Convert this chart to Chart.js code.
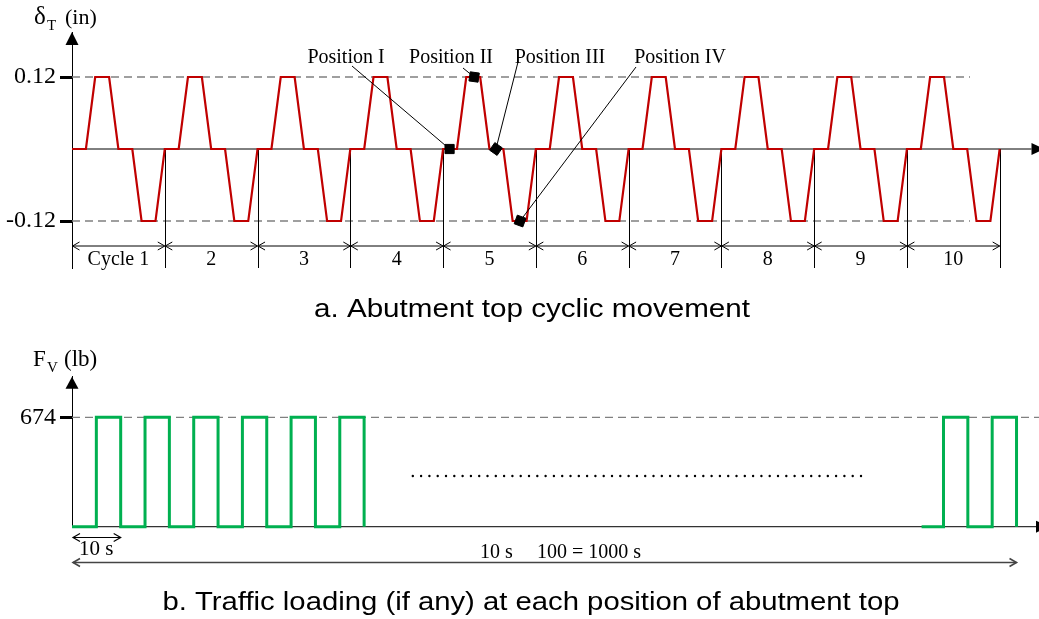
<!DOCTYPE html>
<html>
<head>
<meta charset="utf-8">
<script src="https://cdn.jsdelivr.net/npm/chart.js@4.4.1/dist/chart.umd.min.js"></script>
<style>
  body { margin: 0; background: #fff; width: 1039px; height: 619px; overflow: hidden; position: relative; }
  canvas { position: absolute; left: 0; }
  #moveChart { top: 0; }
  #loadChart { top: 330px; }
</style>
</head>
<body>
<canvas id="moveChart" width="1039" height="330"></canvas>
<canvas id="loadChart" width="1039" height="289"></canvas>
<script>
// abutment movement: one cycle, x in fractions of a cycle, y in inches
const cycleFractions = [0, 0.15, 0.25, 0.4, 0.5, 0.65, 0.75, 0.9, 1];
const cycleDelta = [0, 0, 0.12, 0.12, 0, 0, -0.12, -0.12, 0];
const cycleCount = 10;
const cycleLabels = ["Cycle 1", "2", "3", "4", "5", "6", "7", "8", "9", "10"];
const deltaTicks = [0.12, -0.12];

// the four marked positions inside cycle 5
const positionNames = ["Position I", "Position II", "Position III", "Position IV"];
const positionCycle = [4.07, 4.335, 4.57, 4.83];
const positionDelta = [0, 0.12, 0, -0.12];

// traffic load pulses (time in s, force in lb)
const loadTimes = [0, 5, 10, 15, 20, 25, 30, 35, 40, 45, 50, 55, 60];
const loadForce = [0, 674, 0, 674, 0, 674, 0, 674, 0, 674, 0, 674, 0];
const lateTimes = [174.5, 179, 184, 189, 194];
const lateForce = [0, 674, 0, 674, 0];
const forceTicks = [674];
const gapTimes = [70, 163];
const gapForce = [312, 312];

const SERIF = "'Liberation Serif', 'Times New Roman', serif";
const SANS = "'Liberation Sans', Arial, sans-serif";

function arrowHead(ctx, x, y, dir, len, half) {
  // filled triangle, tip at (x, y)
  ctx.beginPath();
  if (dir === "up") {
    ctx.moveTo(x, y); ctx.lineTo(x - half, y + len); ctx.lineTo(x + half, y + len);
  } else {
    ctx.moveTo(x, y); ctx.lineTo(x - len, y - half); ctx.lineTo(x - len, y + half);
  }
  ctx.closePath();
  ctx.fill();
}

function chevron(ctx, x, y, dir) {
  // open arrow tip of a dimension line, dir = 1 points right, -1 left
  ctx.beginPath();
  ctx.moveTo(x - dir * 7, y - 4);
  ctx.lineTo(x, y);
  ctx.lineTo(x - dir * 7, y + 4);
  ctx.stroke();
}

function dimLine(ctx, x1, x2, y) {
  ctx.beginPath();
  ctx.moveTo(x1, y);
  ctx.lineTo(x2, y);
  ctx.stroke();
  chevron(ctx, x1, y, -1);
  chevron(ctx, x2, y, 1);
}

// caption text, stretched sideways to the wanted width
function caption(ctx, text, cx, baseline, width) {
  ctx.save();
  ctx.font = "26px " + SANS;
  ctx.textAlign = "center";
  const k = width / ctx.measureText(text).width;
  ctx.translate(cx, baseline);
  ctx.scale(k, 1);
  ctx.fillText(text, 0, 0);
  ctx.restore();
}

/* ---------- a. abutment top movement ---------- */
const movePoints = [];
for (let c = 0; c < cycleCount; c++) {
  cycleFractions.forEach((f, i) => {
    if (c > 0 && i === 0) return;
    movePoints.push({ x: c + f, y: cycleDelta[i] });
  });
}
const positionPoints = positionCycle.map((c, i) => ({ x: c, y: positionDelta[i] }));

// where each position label sits and where its leader starts
const positionLabelAt = [[346, 63], [451, 63], [560, 63], [680, 63]];
const leaderStart = [[352, 66], [463, 68], [518, 62], [636, 67]];
const markerTurn = [0, 8, 35, 20];

const movePlugin = {
  id: "moveDecor",
  beforeDatasetsDraw(chart) {
    const { ctx, chartArea: area, scales: { x, y } } = chart;
    const y0 = y.getPixelForValue(0);
    ctx.save();

    // guide lines at the peaks
    ctx.strokeStyle = "#808080";
    ctx.lineWidth = 1.3;
    ctx.setLineDash([8, 5]);
    deltaTicks.forEach(v => {
      const py = y.getPixelForValue(v);
      ctx.beginPath();
      ctx.moveTo(area.left, py);
      ctx.lineTo(x.getPixelForValue(9.68), py);
      ctx.stroke();
    });
    ctx.setLineDash([]);

    // time axis through zero
    ctx.strokeStyle = "#000";
    ctx.fillStyle = "#000";
    ctx.lineWidth = 1;
    ctx.beginPath();
    ctx.moveTo(area.left, y0);
    ctx.lineTo(area.right, y0);
    ctx.stroke();
    arrowHead(ctx, area.right + 13, y0, "right", 13, 6);

    // cycle boundaries and dimension line
    const dimY = 246;
    for (let k = 1; k <= cycleCount; k++) {
      const px = Math.round(x.getPixelForValue(k)) + 0.5;
      ctx.beginPath();
      ctx.moveTo(px, y0);
      ctx.lineTo(px, area.bottom);
      ctx.stroke();
    }
    ctx.font = "20px " + SERIF;
    ctx.textAlign = "center";
    ctx.textBaseline = "alphabetic";
    for (let k = 0; k < cycleCount; k++) {
      const a = x.getPixelForValue(k), b = x.getPixelForValue(k + 1);
      dimLine(ctx, a + 0.5, b, dimY);
      ctx.fillText(cycleLabels[k], (a + b) / 2, 265);
    }
    ctx.restore();
  },
  beforeDatasetDraw(chart, args) {
    if (args.index !== 1) return;
    const { ctx, scales: { x, y } } = chart;
    ctx.save();
    ctx.strokeStyle = "#000";
    ctx.lineWidth = 1;
    positionPoints.forEach((p, i) => {
      ctx.beginPath();
      ctx.moveTo(leaderStart[i][0], leaderStart[i][1]);
      ctx.lineTo(x.getPixelForValue(p.x), y.getPixelForValue(p.y));
      ctx.stroke();
    });
    ctx.fillStyle = "#000";
    ctx.font = "20px " + SERIF;
    ctx.textAlign = "center";
    positionNames.forEach((n, i) => ctx.fillText(n, positionLabelAt[i][0], positionLabelAt[i][1]));
    ctx.restore();
  },
  afterDraw(chart) {
    const { ctx, chartArea: area } = chart;
    ctx.save();
    ctx.fillStyle = "#000";
    arrowHead(ctx, area.left, area.top, "up", 13, 6.5);

    // axis name: delta_T (in)
    ctx.textAlign = "left";
    ctx.font = "25px " + SERIF;
    ctx.fillText("\u03b4", 34, 24);
    ctx.font = "15px " + SERIF;
    ctx.fillText("T", 47, 30);
    ctx.font = "22px " + SERIF;
    ctx.fillText("(in)", 65, 24);

    caption(ctx, "a. Abutment top cyclic movement", 532, 317, 436);
    ctx.restore();
  }
};

new Chart(document.getElementById("moveChart"), {
  type: "line",
  data: {
    datasets: [
      {
        data: movePoints,
        order: 1,
        borderColor: "#c00000",
        borderWidth: 2.2,
        pointRadius: 0,
        clip: false
      },
      {
        data: positionPoints,
        order: 0,
        showLine: false,
        pointStyle: "rect",
        pointRadius: 6.5,
        pointRotation: markerTurn,
        pointBackgroundColor: "#000",
        pointBorderColor: "#000",
        pointBorderWidth: 1,
        clip: false
      }
    ]
  },
  options: {
    responsive: false,
    animation: false,
    events: [],
    layout: { padding: { left: 0, top: 32, right: 3, bottom: 62 } },
    plugins: { legend: { display: false }, tooltip: { enabled: false } },
    scales: {
      x: { type: "linear", display: false, min: 0, max: 10.343 },
      y: {
        min: -0.1983,
        max: 0.195,
        afterFit(scale) { scale.width = 72; },
        afterBuildTicks(scale) { scale.ticks = deltaTicks.map(v => ({ value: v })); },
        ticks: {
          color: "#000",
          padding: 4,
          font: { family: SERIF, size: 24 },
          callback: v => v.toFixed(2)
        },
        grid: {
          drawOnChartArea: false,
          drawTicks: true,
          tickLength: 12,
          tickWidth: 3,
          tickColor: "#000",
          color: "#000"
        },
        border: { display: true, color: "#000", width: 1 }
      }
    }
  },
  plugins: [movePlugin]
});

/* ---------- b. traffic loading ---------- */
const earlyPulses = loadTimes.map((t, i) => ({ x: t, y: loadForce[i] }));
const latePulses = lateTimes.map((t, i) => ({ x: t, y: lateForce[i] }));
const gapDots = gapTimes.map((t, i) => ({ x: t, y: gapForce[i] }));

const loadPlugin = {
  id: "loadDecor",
  beforeDatasetsDraw(chart) {
    const { ctx, chartArea: area, scales: { x, y } } = chart;
    ctx.save();
    ctx.strokeStyle = "#808080";
    ctx.lineWidth = 1.3;
    ctx.setLineDash([8, 5]);
    forceTicks.forEach(v => {
      const py = y.getPixelForValue(v);
      ctx.beginPath();
      ctx.moveTo(area.left, py);
      ctx.lineTo(chart.width, py);
      ctx.stroke();
    });
    ctx.setLineDash([]);

    const y0 = y.getPixelForValue(0);
    ctx.strokeStyle = "#333";
    ctx.fillStyle = "#000";
    ctx.lineWidth = 1.2;
    ctx.beginPath();
    ctx.moveTo(area.left, y0);
    ctx.lineTo(area.right, y0);
    ctx.stroke();
    arrowHead(ctx, area.right + 13, y0, "right", 13, 6);
    ctx.restore();
  },
  afterDraw(chart) {
    const { ctx, chartArea: area, scales: { x } } = chart;
    ctx.save();
    ctx.fillStyle = "#000";
    ctx.strokeStyle = "#000";
    arrowHead(ctx, area.left, area.top, "up", 12, 6.5);

    // one loading period and the whole test span
    ctx.lineWidth = 1.2;
    dimLine(ctx, x.getPixelForValue(0) + 1, x.getPixelForValue(10), 207.5);
    ctx.strokeStyle = "#444";
    ctx.lineWidth = 1.6;
    dimLine(ctx, x.getPixelForValue(0) + 1, x.getPixelForValue(lateTimes[lateTimes.length - 1]), 232.5);

    ctx.font = "21px " + SERIF;
    ctx.textAlign = "left";
    ctx.fillText("10 s", 79, 225);
    ctx.font = "20px " + SERIF;
    ctx.fillText("10 s", 480, 228);
    ctx.fillText("100 = 1000 s", 537, 228);

    // axis name: F_V (lb)
    ctx.font = "23px " + SERIF;
    ctx.fillText("F", 33, 36);
    ctx.font = "15px " + SERIF;
    ctx.fillText("V", 47, 42);
    ctx.font = "23px " + SERIF;
    ctx.fillText("(lb)", 64, 36);

    caption(ctx, "b. Traffic loading (if any) at each position of abutment top", 531, 280, 737);
    ctx.restore();
  }
};

new Chart(document.getElementById("loadChart"), {
  type: "line",
  data: {
    datasets: [
      { data: earlyPulses, stepped: true, borderColor: "#00b050", borderWidth: 3, pointRadius: 0, clip: false },
      { data: latePulses, stepped: true, borderColor: "#00b050", borderWidth: 3, pointRadius: 0, clip: false },
      {
        data: gapDots,
        borderColor: "#000",
        borderWidth: 2.4,
        borderDash: [0, 8.3],
        borderCapStyle: "round",
        pointRadius: 0,
        clip: false
      }
    ]
  },
  options: {
    responsive: false,
    animation: false,
    events: [],
    layout: { padding: { left: 0, top: 46.7, right: 3, bottom: 92.3 } },
    plugins: { legend: { display: false }, tooltip: { enabled: false } },
    scales: {
      x: { type: "linear", display: false, min: 0, max: 198 },
      y: {
        min: 0,
        max: 924,
        afterFit(scale) { scale.width = 72; },
        afterBuildTicks(scale) { scale.ticks = forceTicks.map(v => ({ value: v })); },
        ticks: { color: "#000", padding: 4, font: { family: SERIF, size: 24 } },
        grid: {
          drawOnChartArea: false,
          drawTicks: true,
          tickLength: 12,
          tickWidth: 3,
          tickColor: "#000",
          color: "#000"
        },
        border: { display: true, color: "#000", width: 1 }
      }
    }
  },
  plugins: [loadPlugin]
});
</script>
</body>
</html>
